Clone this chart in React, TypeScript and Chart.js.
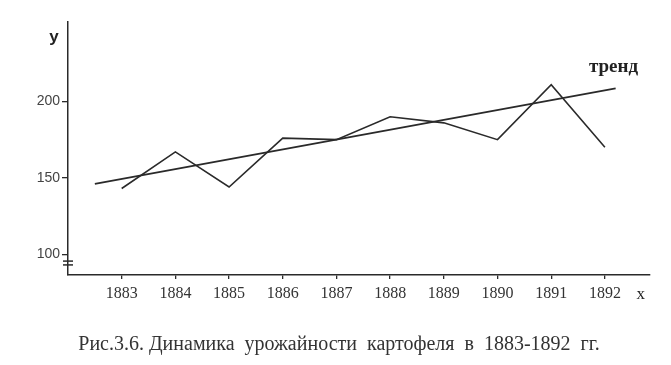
import React, { useEffect, useRef } from "react";
import { Chart, registerables } from "chart.js";

Chart.register(...registerables);

const years = [1883, 1884, 1885, 1886, 1887, 1888, 1889, 1890, 1891, 1892];
const yieldValues = [143, 167, 144, 176, 175, 190, 186, 175, 211, 170];
const trendYears = [1882.5, 1892.2];
const trendValues = [146, 208.6];
const yTickValues = [100, 150, 200];
const caption = "Рис.3.6. Динамика  урожайности  картофеля  в  1883-1892  гг.";
const trendLabel = "тренд";

const ink = "#2a2a2a";

const annotations = {
  id: "annotations",
  afterDraw(chart: any) {
    const { ctx, chartArea, scales } = chart;
    const xs = scales.x;
    const ys = scales.y;
    ctx.save();
    ctx.fillStyle = "#222";
    ctx.textAlign = "center";
    ctx.textBaseline = "middle";
    // trend label
    ctx.font = "bold 19px 'Liberation Serif', serif";
    ctx.fillText(trendLabel, xs.getPixelForValue(1892.16), ys.getPixelForValue(222.5));
    // axis names
    ctx.font = "17px 'Liberation Serif', serif";
    ctx.fillText("x", xs.getPixelForValue(1892.67), chartArea.bottom + 20);
    ctx.font = "bold 17px 'Liberation Sans', sans-serif";
    ctx.fillText("y", chartArea.left - 14, chartArea.top + 15);
    // caption
    ctx.fillStyle = "#333";
    ctx.font = "20px 'Liberation Serif', serif";
    ctx.fillText(caption, (xs.left + xs.right) / 2 - 20, chartArea.bottom + 70);
    // axis break marks
    ctx.strokeStyle = ink;
    ctx.lineWidth = 1.5;
    const l = chartArea.left;
    [95.5, 93].forEach((v) => {
      const py = ys.getPixelForValue(v);
      ctx.beginPath();
      ctx.moveTo(l - 5, py);
      ctx.lineTo(l + 5, py);
      ctx.stroke();
    });
    ctx.restore();
  },
};

export default function App() {
  const ref = useRef<HTMLCanvasElement | null>(null);
  useEffect(() => {
    if (!ref.current) return;
    const chart = new Chart(ref.current, {
      type: "line",
      data: {
        datasets: [
          {
            data: years.map((x, i) => ({ x, y: yieldValues[i] })),
            borderColor: ink,
            borderWidth: 1.6,
            pointRadius: 0,
            tension: 0,
          },
          {
            data: trendYears.map((x, i) => ({ x, y: trendValues[i] })),
            borderColor: ink,
            borderWidth: 1.8,
            pointRadius: 0,
            tension: 0,
          },
        ],
      },
      options: {
        animation: false,
        responsive: false,
        layout: { padding: { left: 0, right: 21, top: 22, bottom: 0 } },
        plugins: {
          legend: { display: false },
          tooltip: { enabled: false },
          title: { display: false },
        },
        scales: {
          x: {
            type: "linear",
            min: 1882,
            max: 1892.84,
            afterBuildTicks: (s: any) => {
              s.ticks = years.map((v) => ({ value: v }));
            },
            afterFit: (s: any) => {
              s.height = 90;
            },
            ticks: {
              callback: (v: any) => String(v),
              color: "#333",
              font: { family: "'Liberation Serif', serif", size: 16 },
              padding: 5,
              maxRotation: 0,
              autoSkip: false,
            },
            grid: { drawOnChartArea: false, drawTicks: true, tickLength: 4, color: ink, lineWidth: 1.3 },
            border: { display: true, color: ink, width: 1.5 },
          },
          y: {
            type: "linear",
            min: 86.4,
            max: 252,
            afterBuildTicks: (s: any) => {
              s.ticks = yTickValues.map((v) => ({ value: v }));
            },
            afterFit: (s: any) => {
              s.width = 68;
            },
            ticks: {
              callback: (v: any) => String(v),
              color: "#444",
              font: { family: "'Liberation Sans', sans-serif", size: 14 },
              padding: 2,
            },
            grid: { drawOnChartArea: false, drawTicks: true, tickLength: 6, color: ink, lineWidth: 1.3 },
            border: { display: true, color: ink, width: 1.5 },
          },
        },
      },
      plugins: [annotations],
    } as any);
    return () => chart.destroy();
  }, []);
  return (
    <div style={{ position: "absolute", left: 0, top: 0, width: 671, height: 365, background: "#fff" }}>
      <canvas ref={ref} width={671} height={365} style={{ width: 671, height: 365, display: "block" }} />
    </div>
  );
}
